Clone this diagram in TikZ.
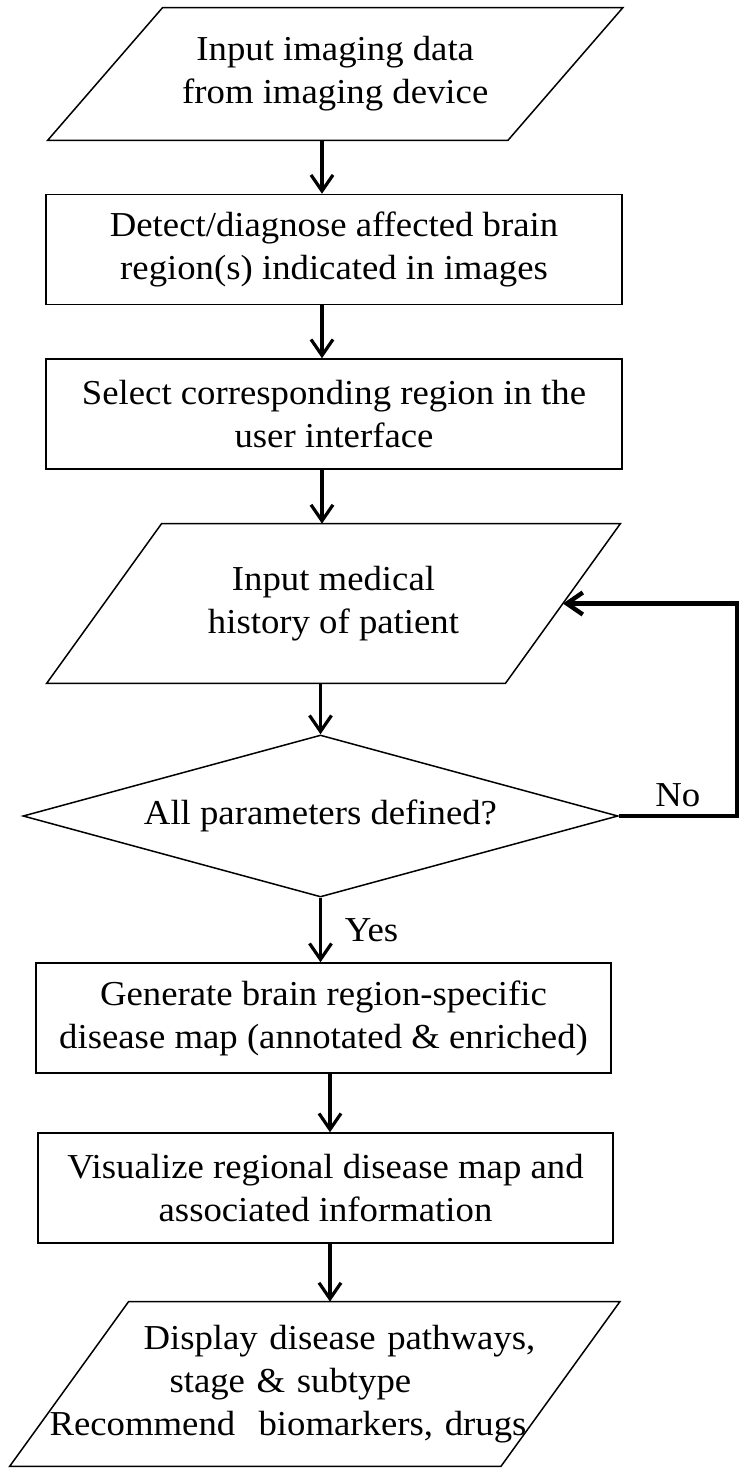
\documentclass[tikz,border=0pt]{standalone}
\usepackage{fontspec}
\setmainfont{Liberation Serif}[FakeStretch=1.05]
\usepackage{tikz}
\usetikzlibrary{shapes.geometric,arrows.meta,calc}

\newcommand{\iobox}[2]{\draw[line width=0.75pt] ($(#1.south west)+(-#2,0)$) -- ($(#1.north west)+(#2,0)$)
 -- ($(#1.north east)+(#2,0)$) -- ($(#1.south east)+(-#2,0)$) -- cycle;}

\begin{document}
\begin{tikzpicture}[x=0.5pt,y=-0.5pt,font=\fontsize{17.5}{21.5}\selectfont,
proc/.style={draw,line width=0.75pt,minimum width=288pt,minimum height=55pt,align=center,inner sep=0pt},
io/.style={align=center,inner sep=0pt},
arr/.style={-{Straight Barb[length=8pt,width=11pt]},line width=1.6pt},
back arr/.style={arr,line width=2.2pt}]
\useasboundingbox (0,0) rectangle (746,1475);

\node[io,minimum width=229.75pt,minimum height=66pt] (input) at (335.25,74) {Input imaging data\\from imaging device};
\iobox{input}{57.5}
\node[proc] (detect) at (334,249.5) {Detect/diagnose affected brain\\region(s) indicated in images};
\node[proc] (select) at (334,414) {Select corresponding region in the\\user interface};
\node[io,minimum width=229pt,minimum height=79.5pt] (history) at (333.5,603.5) {Input medical\\history of patient};
\iobox{history}{57.5}
\node[diamond,draw,line width=0.75pt,aspect=3.67,minimum width=297.5pt,minimum height=81pt,inner sep=1pt] (check) at (320.5,816) {All parameters defined?};
\node[proc,minimum width=287.5pt] (map) at (323.5,1018) {Generate brain region-specific\\disease map (annotated \& enriched)};
\node[proc,minimum width=287.5pt] (show) at (325.5,1188) {Visualize regional disease map and\\associated information};
\node[io,text width=245.25pt,align=left,minimum height=82pt] (display) at (314.75,1384) {\hspace*{37pt}Display disease pathways,\\\hspace*{50pt}stage \& subtype\\\hspace*{-10pt}Recommend\ \ biomarkers, drugs};
\iobox{display}{59.5}

\coordinate (spine) at (322,0);
\coordinate (spine2) at (330,0);
\coordinate (back) at (737,0);

\draw[arr] (spine |- input.south) -- (spine |- detect.north);
\draw[arr] (spine |- detect.south) -- (spine |- select.north);
\draw[arr] (spine |- select.south) -- (spine |- history.north);
\draw[arr] (check.north |- history.south) -- (check.north);
\draw[arr] (check.south) -- node[right=8pt] {Yes} (check.south |- map.north);
\draw[arr] (spine2 |- map.south) -- (spine2 |- show.north);
\draw[arr] (spine2 |- show.south) -- (spine2 |- display.north);
\draw[back arr] (check.east) -- node[above] {No} (back |- check.east) -- (back |- history.east) -- (history.east);
\end{tikzpicture}
\end{document}
